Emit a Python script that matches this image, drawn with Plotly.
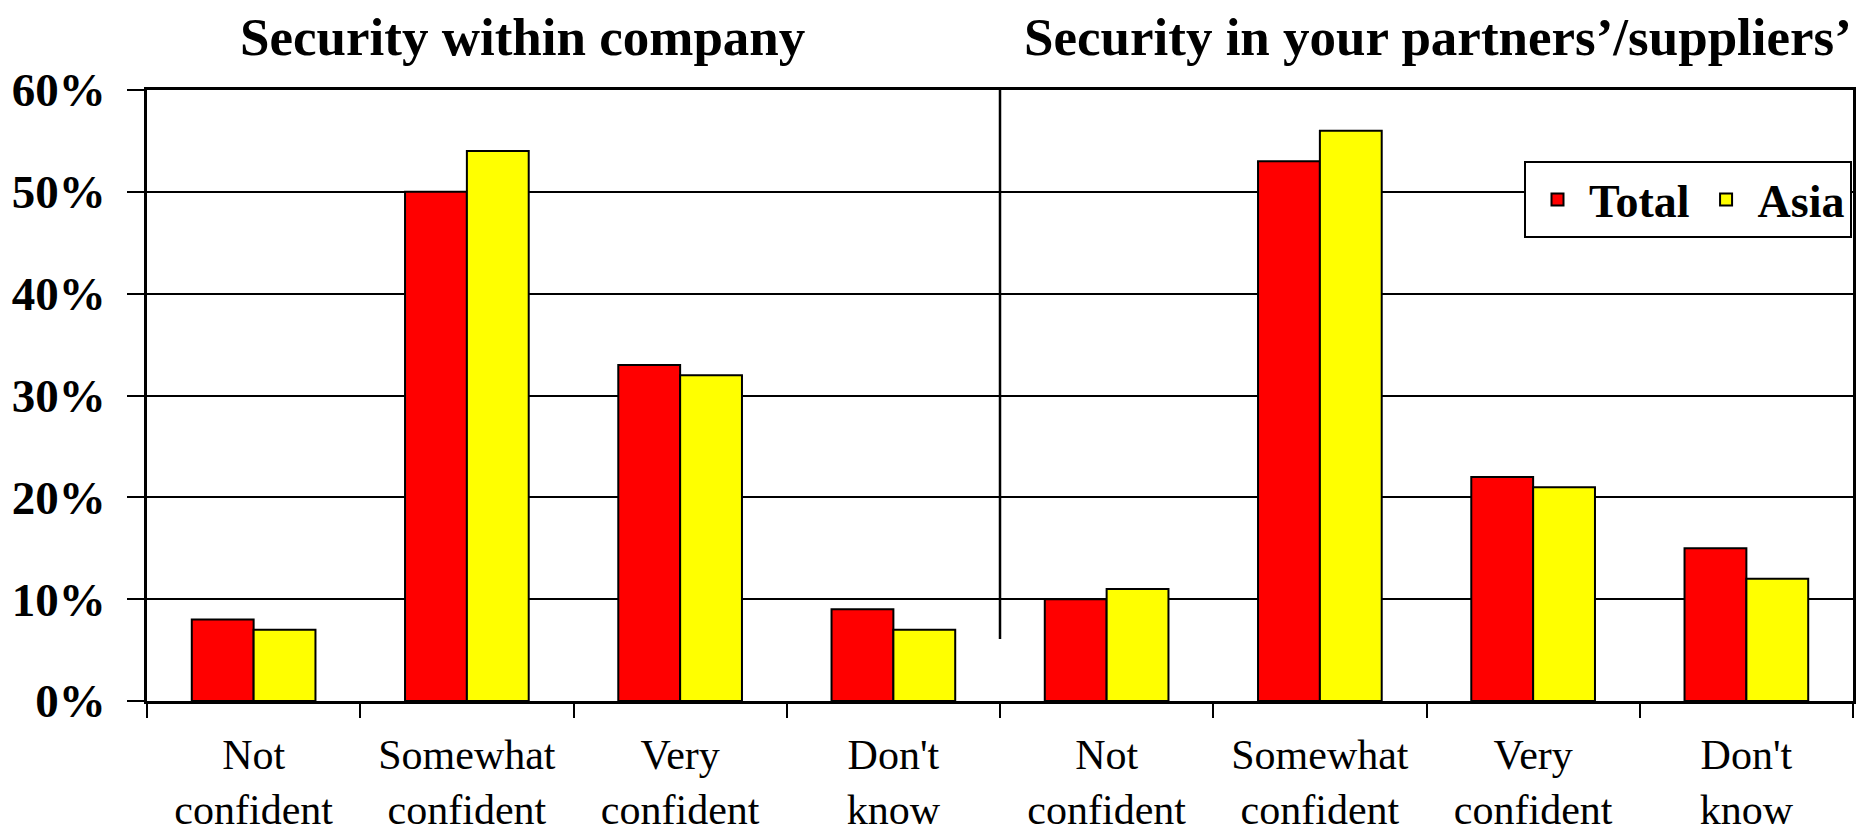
import plotly.graph_objects as go

# ---- data ----
categories = ["Not confident", "Somewhat confident", "Very confident", "Don't know"]
panel_titles = ["Security within company", "Security in your partners\u2019/suppliers\u2019"]
series_names = ["Total", "Asia"]
total_company = [8, 50, 33, 9]
asia_company = [7, 54, 32, 7]
total_partners = [10, 53, 22, 15]
asia_partners = [11, 56, 21, 12]
y_ticks = [0, 10, 20, 30, 40, 50, 60]

# ---- build ----
n = len(categories)
all_cats = categories + categories
xpos = list(range(len(all_cats)))
ticktext = [c.replace(" ", "<br>", 1) for c in all_cats]
total_vals = total_company + total_partners
asia_vals = asia_company + asia_partners

FONT = "'Liberation Serif', 'Times New Roman', Times, serif"
W, H = 1874, 833
ML, MR, MT, MB = 147, 21, 90, 132
pw = W - ML - MR
ph = H - MT - MB

fig = go.Figure()
fig.add_trace(go.Bar(x=xpos, y=total_vals, name=series_names[0],
                     marker=dict(color="#FF0000", line=dict(color="black", width=2))))
fig.add_trace(go.Bar(x=xpos, y=asia_vals, name=series_names[1],
                     marker=dict(color="#FFFF00", line=dict(color="black", width=2))))

fig.update_layout(
    width=W, height=H, autosize=False,
    margin=dict(l=ML, r=MR, t=MT, b=MB, pad=0, autoexpand=False),
    paper_bgcolor="white", plot_bgcolor="white",
    barmode="group", bargap=0.42, bargroupgap=0,
    font=dict(family=FONT, color="black"),
    legend=dict(orientation="h", x=(1852 - ML) / pw, xanchor="right",
                y=(H - MB - 161) / ph, yanchor="top",
                bgcolor="white", bordercolor="black", borderwidth=2,
                font=dict(family=FONT, size=46, color="black", weight="bold"),
                itemwidth=53, traceorder="normal", tracegroupgap=0),
    showlegend=True,
)

fig.update_xaxes(
    automargin=False,
    range=[-0.5, len(all_cats) - 0.5],
    tickmode="array", tickvals=xpos, ticktext=ticktext,
    ticks="", showgrid=False, zeroline=False,
    tickfont=dict(family=FONT, size=42, color="black"),
    ticklabelstandoff=15,
    showline=True, linecolor="black", linewidth=3, mirror=True,
    minor=dict(tickmode="array", tickvals=[i - 0.5 for i in range(len(all_cats) + 1)],
               ticks="outside", ticklen=14, tickwidth=2, tickcolor="black", showgrid=False),
    fixedrange=True,
)
fig.update_yaxes(
    automargin=False,
    range=[0, y_ticks[-1]], tickmode="array", tickvals=y_ticks,
    ticktext=[f"{v}%" for v in y_ticks],
    ticks="outside", ticklen=17, tickwidth=2, tickcolor="black",
    tickfont=dict(family=FONT, size=47, color="black", weight="bold"),
    ticklabelstandoff=12,
    showgrid=True, gridcolor="black", gridwidth=1.5,
    zeroline=False,
    showline=True, linecolor="black", linewidth=2.5, mirror=True,
    fixedrange=True,
)

# divider between the two panels
fig.add_shape(type="line", xref="x", yref="y", x0=n - 0.5, x1=n - 0.5, y0=6.1, y1=y_ticks[-1],
              line=dict(color="black", width=2.5))

# panel titles
title_x = [(522 - ML) / pw, (1438 - ML) / pw]
for t, xx in zip(panel_titles, title_x):
    fig.add_annotation(text=t, xref="paper", yref="paper", x=xx, y=(H - MB - 37) / ph,
                       xanchor="center", yanchor="middle", showarrow=False,
                       font=dict(family=FONT, size=53, color="black", weight="bold"))

fig.write_html("out.html", config={"displayModeBar": False},
               post_script="document.body.style.margin='0';")
